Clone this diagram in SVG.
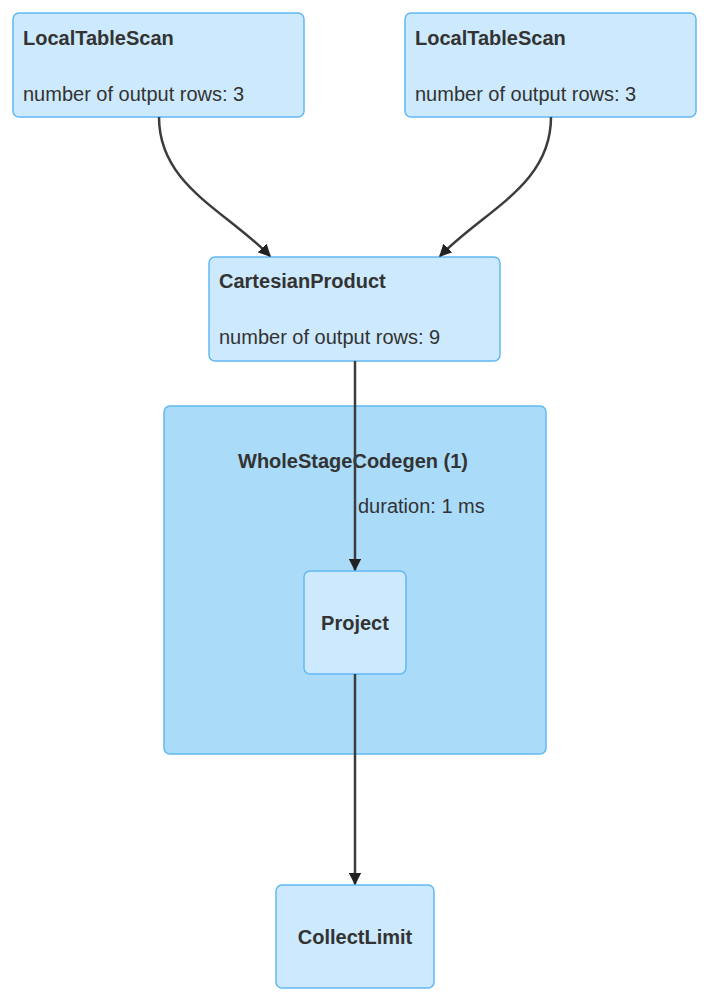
<svg xmlns="http://www.w3.org/2000/svg" width="712" height="1002" viewBox="0 0 712 1002">
<style>
.n{fill:#cce9fd;stroke:#62b8f3;stroke-width:1.5}
.c{fill:#aadcfa;stroke:#62b8f3;stroke-width:1.5}
.t{font-family:"Liberation Sans",Arial,sans-serif;font-size:20px;fill:#333}
.b{font-weight:bold}
.e{fill:none;stroke:#3c3c3c;stroke-width:2.5}
</style>
<defs><marker id="a" viewBox="0 0 10 10" refX="9" refY="5" markerWidth="5" markerHeight="5" orient="auto" markerUnits="strokeWidth"><path d="M0,0L10,5L0,10z" fill="#222"/></marker></defs>
<rect x="0" y="0" width="712" height="1002" fill="#fff"/>
<g id="cluster"><rect class="c" x="164" y="406" width="382" height="348" rx="6"/>
<text class="t b" x="238" y="468">WholeStageCodegen (1)</text>
<text class="t" x="358" y="513">duration: 1 ms</text></g>
<g id="lts1"><rect class="n" x="13" y="13" width="291" height="104" rx="6"/>
<text class="t b" x="23" y="45">LocalTableScan</text>
<text class="t" x="23" y="101">number of output rows: 3</text></g>
<g id="lts2"><rect class="n" x="405" y="13" width="291" height="104" rx="6"/>
<text class="t b" x="415" y="45">LocalTableScan</text>
<text class="t" x="415" y="101">number of output rows: 3</text></g>
<g id="cart"><rect class="n" x="209" y="257" width="291" height="104" rx="6"/>
<text class="t b" x="219" y="288">CartesianProduct</text>
<text class="t" x="219" y="344">number of output rows: 9</text></g>
<g id="project"><rect class="n" x="304" y="571" width="102" height="103" rx="6"/>
<text class="t b" x="355" y="630" text-anchor="middle">Project</text></g>
<g id="collect"><rect class="n" x="276" y="885" width="158" height="103" rx="6"/>
<text class="t b" x="355" y="944" text-anchor="middle">CollectLimit</text></g>
<g id="edges">
<path class="e" marker-end="url(#a)" d="M159,117 C159,185 225,210 270,256"/>
<path class="e" marker-end="url(#a)" d="M551,117 C551,185 485,210 440,256"/>
<path class="e" marker-end="url(#a)" d="M355,361 L355,570"/>
<path class="e" marker-end="url(#a)" d="M355,674 L355,884"/>
</g>
</svg>
